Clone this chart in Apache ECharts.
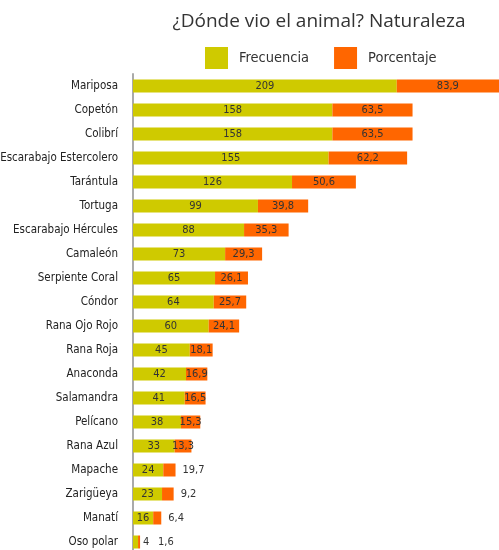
<!DOCTYPE html>
<html>
<head>
<meta charset="utf-8">
<script src="https://cdn.jsdelivr.net/npm/echarts@6/dist/echarts.min.js"></script>
<style>
  html, body { margin: 0; padding: 0; background: #fff; }
  #chart { width: 499px; height: 550px; }
</style>
</head>
<body>
<div id="chart"></div>
<script>
// datos
var animales = ['Mariposa', 'Copetón', 'Colibrí', 'Escarabajo Estercolero', 'Tarántula', 'Tortuga',
  'Escarabajo Hércules', 'Camaleón', 'Serpiente Coral', 'Cóndor', 'Rana Ojo Rojo', 'Rana Roja',
  'Anaconda', 'Salamandra', 'Pelícano', 'Rana Azul', 'Mapache', 'Zarigüeya', 'Manatí', 'Oso polar']
var frecuencia = [209, 158, 158, 155, 126, 99, 88, 73, 65, 64, 60, 45, 42, 41, 38, 33, 24, 23, 16, 4]
var porcentaje = [83.9, 63.5, 63.5, 62.2, 50.6, 39.8, 35.3, 29.3, 26.1, 25.7, 24.1, 18.1, 16.9, 16.5, 15.3, 13.3, 9.7, 9.2, 6.4, 1.6]
// etiquetas tal como aparecen en el original (Mapache dice 19,7)
var porcentajeTexto = ['83,9', '63,5', '63,5', '62,2', '50,6', '39,8', '35,3', '29,3', '26,1', '25,7', '24,1', '18,1',
  '16,9', '16,5', '15,3', '13,3', '19,7', '9,2', '6,4', '1,6']

var fuente = '"DejaVu Sans Condensed", "Liberation Sans Narrow", sans-serif'
var colorTexto = '#333'

var frecData = frecuencia.map(function (v) {
  var d = { value: v }
  if (v < 10) {
    d.label = { position: 'right', distance: 5 }
  }
  return d
})
var porcData = porcentaje.map(function (v) {
  var d = { value: v }
  if (v < 10) {
    d.label = { position: 'right', distance: v < 3 ? 18 : 7 }
  }
  return d
})

var chart = echarts.init(document.getElementById('chart'))
var option = {
  animation: false,
  title: {
    text: '¿Dónde vio el animal? Naturaleza',
    left: 314,
    top: 7,
    textAlign: 'center',
    textStyle: { fontFamily: '"Open Sans", sans-serif', fontSize: 19, fontWeight: 'normal', color: '#333' }
  },
  legend: {
    top: 42,
    left: 200,
    icon: 'rect',
    itemWidth: 23,
    itemHeight: 22,
    itemGap: 25,
    textStyle: { fontFamily: fuente, fontSize: 14.5, color: '#333', padding: [0, 0, 0, 6] },
    data: ['Frecuencia', 'Porcentaje']
  },
  grid: {
    left: 133,
    right: 0,
    top: 74,
    height: 480,
    outerBoundsMode: 'none'
  },
  xAxis: {
    type: 'value',
    min: 0,
    max: 290,
    show: false
  },
  yAxis: {
    type: 'category',
    inverse: true,
    data: animales,
    axisLine: { lineStyle: { color: '#aaa', width: 2 } },
    axisTick: { show: false },
    axisLabel: { fontFamily: fuente, fontSize: 11.5, color: '#222', margin: 15 }
  },
  series: [
    {
      name: 'Frecuencia',
      type: 'bar',
      stack: 'total',
      barWidth: 13,
      itemStyle: { color: '#cfca00' },
      label: {
        show: true,
        position: 'inside',
        fontFamily: fuente,
        fontSize: 11,
        color: colorTexto
      },
      data: frecData
    },
    {
      name: 'Porcentaje',
      type: 'bar',
      stack: 'total',
      barWidth: 13,
      itemStyle: { color: '#ff6600' },
      label: {
        show: true,
        position: 'inside',
        fontFamily: fuente,
        fontSize: 11,
        color: colorTexto,
        formatter: function (p) { return porcentajeTexto[p.dataIndex] }
      },
      data: porcData
    }
  ]
}
chart.setOption(option)
</script>
</body>
</html>
